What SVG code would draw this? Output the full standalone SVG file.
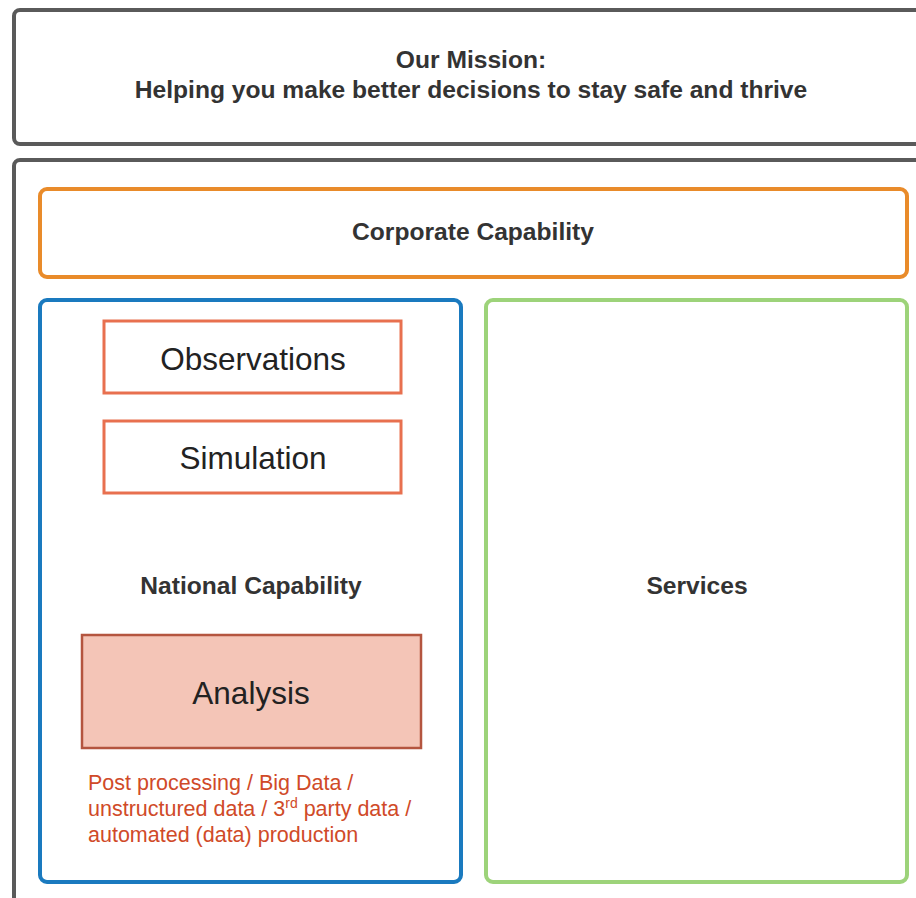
<svg xmlns="http://www.w3.org/2000/svg" width="916" height="898" viewBox="0 0 916 898">
<style>
.bold{font-family:"Liberation Sans",Arial,sans-serif;font-weight:bold;font-size:24.6px;fill:#333;text-anchor:middle}
.big{font-family:"Liberation Sans",Arial,sans-serif;font-size:31.5px;fill:#222;text-anchor:middle}
.note{font-family:"Liberation Sans",Arial,sans-serif;font-size:21.5px;fill:#d04a28}
.frame{fill:#fff;stroke:#5a5a5a;stroke-width:4}
.sub{fill:#fff;stroke:#e8704f;stroke-width:3}
</style>
<rect width="916" height="898" fill="#fff"/>
<g id="mission">
<rect class="frame" x="14" y="10" width="920" height="134" rx="6"/>
<text class="bold" x="471" y="68">Our Mission:</text>
<text class="bold" x="471" y="98">Helping you make better decisions to stay safe and thrive</text>
</g>
<g id="outer">
<rect class="frame" x="14" y="160" width="920" height="760" rx="6"/>
</g>
<g id="corporate">
<rect x="40" y="189" width="867" height="88" rx="7" fill="#fff" stroke="#e98b2a" stroke-width="4"/>
<text class="bold" x="473" y="240">Corporate Capability</text>
</g>
<g id="national">
<rect x="40" y="300" width="421" height="582" rx="7" fill="#fff" stroke="#1a7abf" stroke-width="4"/>
<text class="bold" x="251" y="594">National Capability</text>
</g>
<g id="services">
<rect x="486" y="300" width="421" height="582" rx="7" fill="#fff" stroke="#9dd37a" stroke-width="4"/>
<text class="bold" x="697" y="594">Services</text>
</g>
<g id="observations">
<rect class="sub" x="104" y="321" width="297" height="72"/>
<text class="big" x="253" y="370">Observations</text>
</g>
<g id="simulation">
<rect class="sub" x="104" y="421" width="297" height="72"/>
<text class="big" x="253" y="469">Simulation</text>
</g>
<g id="analysis">
<rect x="82" y="635" width="339" height="113" fill="#f4c5b7" stroke="#b4553f" stroke-width="2.5"/>
<text class="big" x="251" y="704">Analysis</text>
</g>
<g id="analysis-note">
<text class="note" x="88" y="790">Post processing / Big Data /</text>
<text class="note" x="88" y="816">unstructured data / 3<tspan font-size="14" dy="-8">rd</tspan><tspan dy="8"> party data /</tspan></text>
<text class="note" x="88" y="842">automated (data) production</text>
</g>
<g id="connectors"></g>
</svg>
